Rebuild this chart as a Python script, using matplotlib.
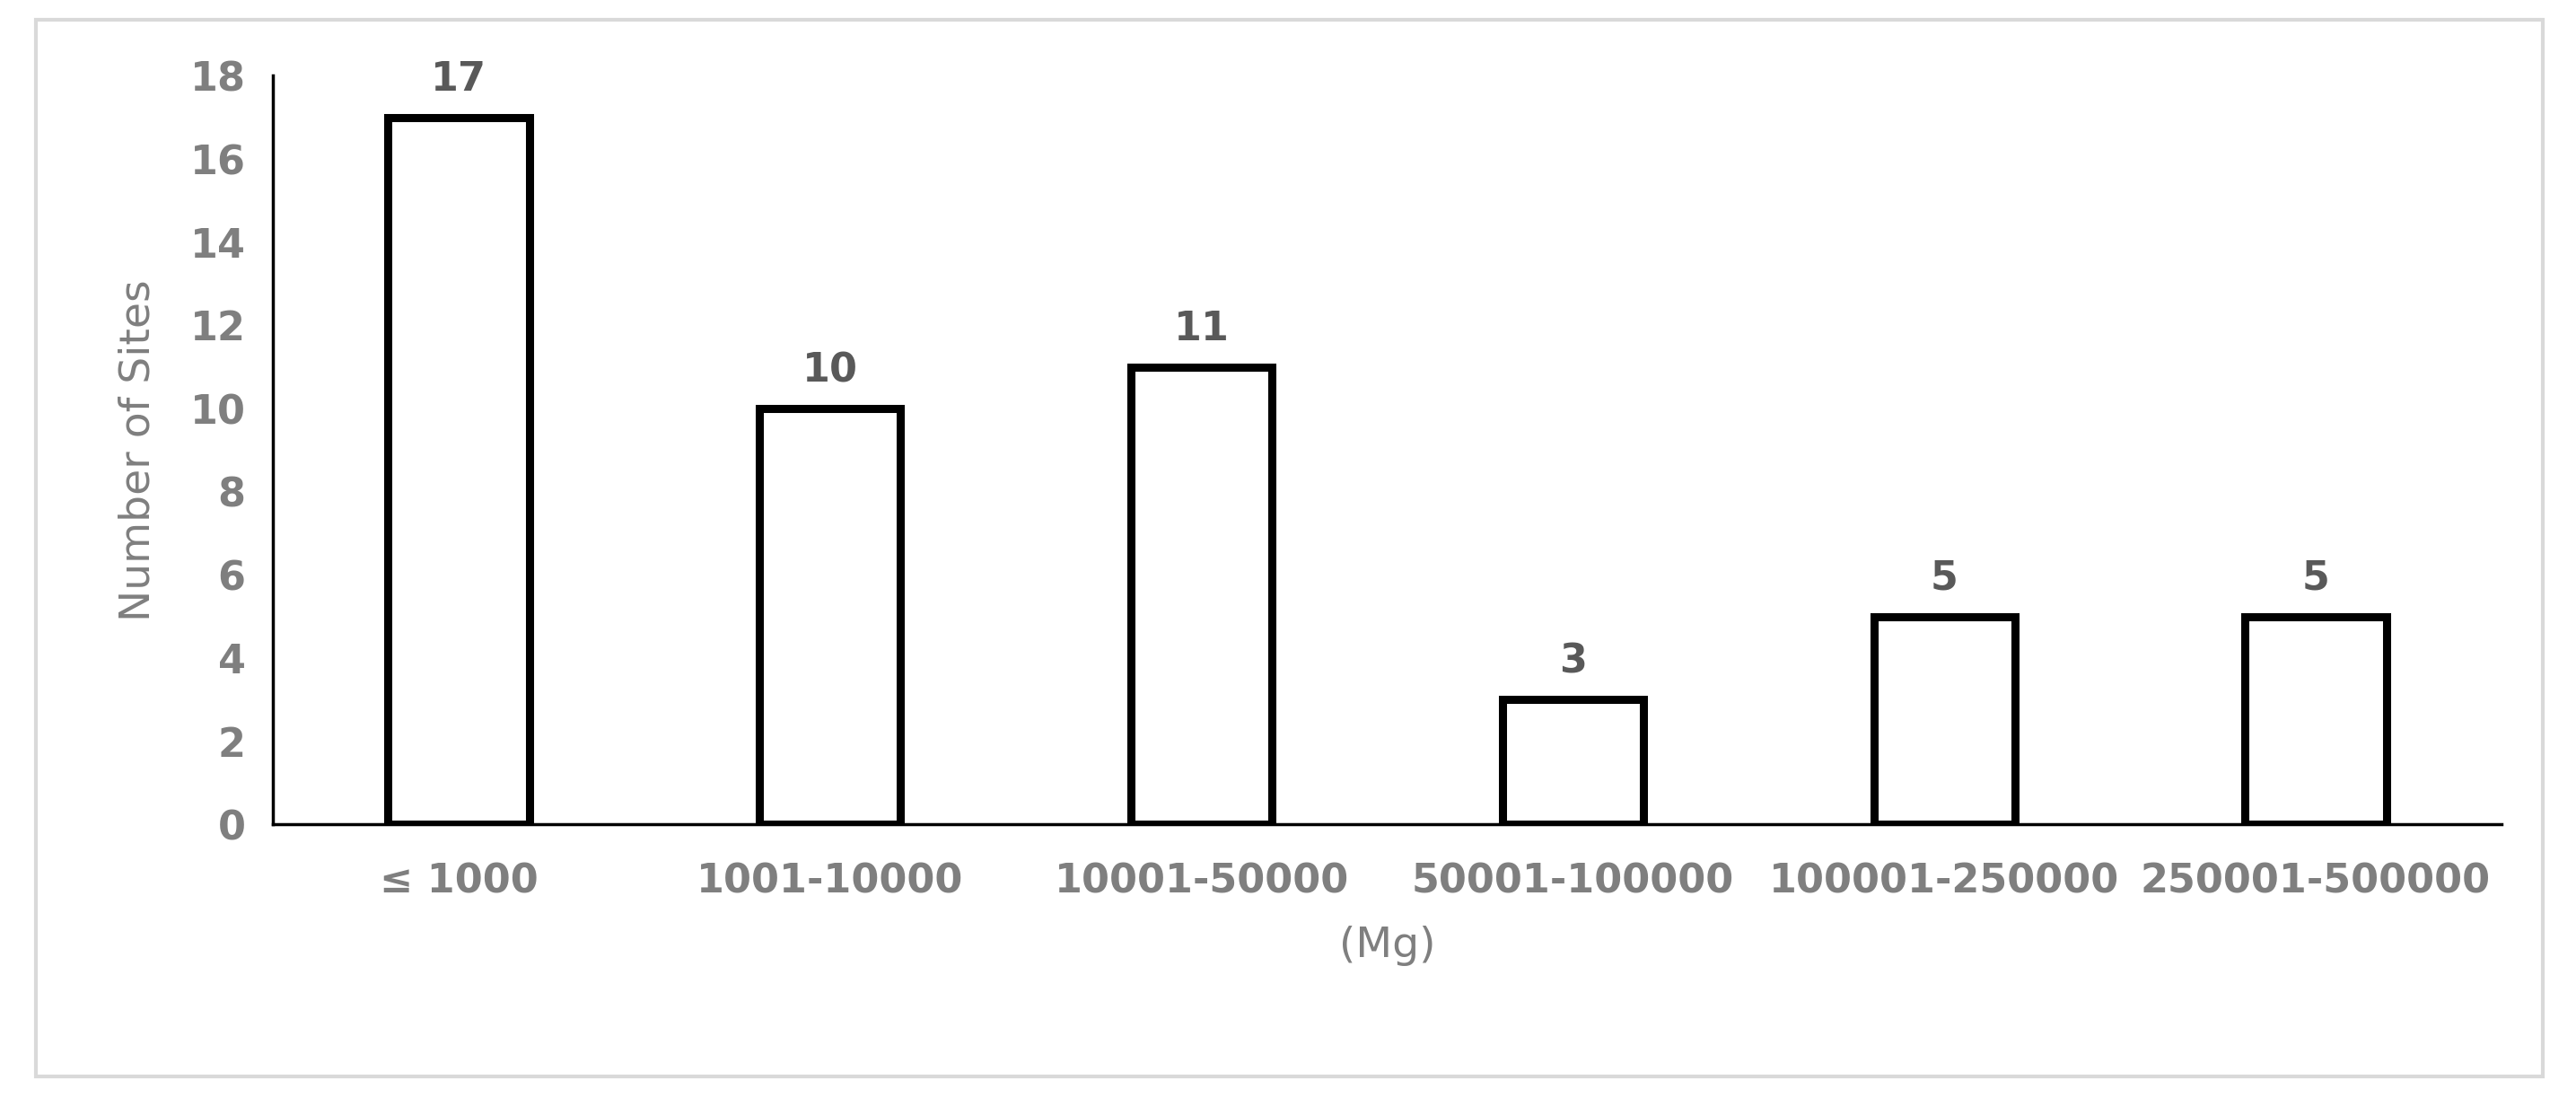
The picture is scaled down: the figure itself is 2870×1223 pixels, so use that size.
import matplotlib
matplotlib.use('Agg')
import matplotlib.pyplot as plt
from matplotlib.patches import Rectangle

categories = ['\u2264 1000', '1001-10000', '10001-50000', '50001-100000', '100001-250000', '250001-500000']
sites = [17, 10, 11, 3, 5, 5]

fig = plt.figure(figsize=(28.7, 12.23), dpi=100)
fig.patches.append(Rectangle((0.014, 0.02), 0.973, 0.962, transform=fig.transFigure,
                             fill=False, edgecolor='#d9d9d9', linewidth=3))
ax = fig.add_axes([0.106, 0.249, 0.865, 0.682])

x = list(range(len(categories)))
bars = ax.bar(x, sites, width=0.38, facecolor='white', edgecolor='black', linewidth=6.5)
for xi, v in zip(x, sites):
    ax.text(xi, v + 0.45, str(v), ha='center', va='bottom', fontsize=32,
            fontweight='bold', color='#595959')

ax.set_xlim(-0.5, 5.5)
ax.set_ylim(0, 18)
ax.set_yticks(range(0, 19, 2))
ax.set_xticks(x)
ax.set_xticklabels(categories)
ax.tick_params(length=0, labelsize=32, labelcolor='#7f7f7f', pad=22)
ax.tick_params(axis='x', pad=30)
for lbl in ax.get_xticklabels() + ax.get_yticklabels():
    lbl.set_fontweight('bold')
for s in ['top', 'right']:
    ax.spines[s].set_visible(False)
for s in ['left', 'bottom']:
    ax.spines[s].set_linewidth(2.5)
ax.set_ylabel('Number of Sites', fontsize=34, color='#7f7f7f', labelpad=25)
ax.set_xlabel('(Mg)', fontsize=34, color='#7f7f7f', labelpad=20)

fig.savefig('out.png', dpi=100)
